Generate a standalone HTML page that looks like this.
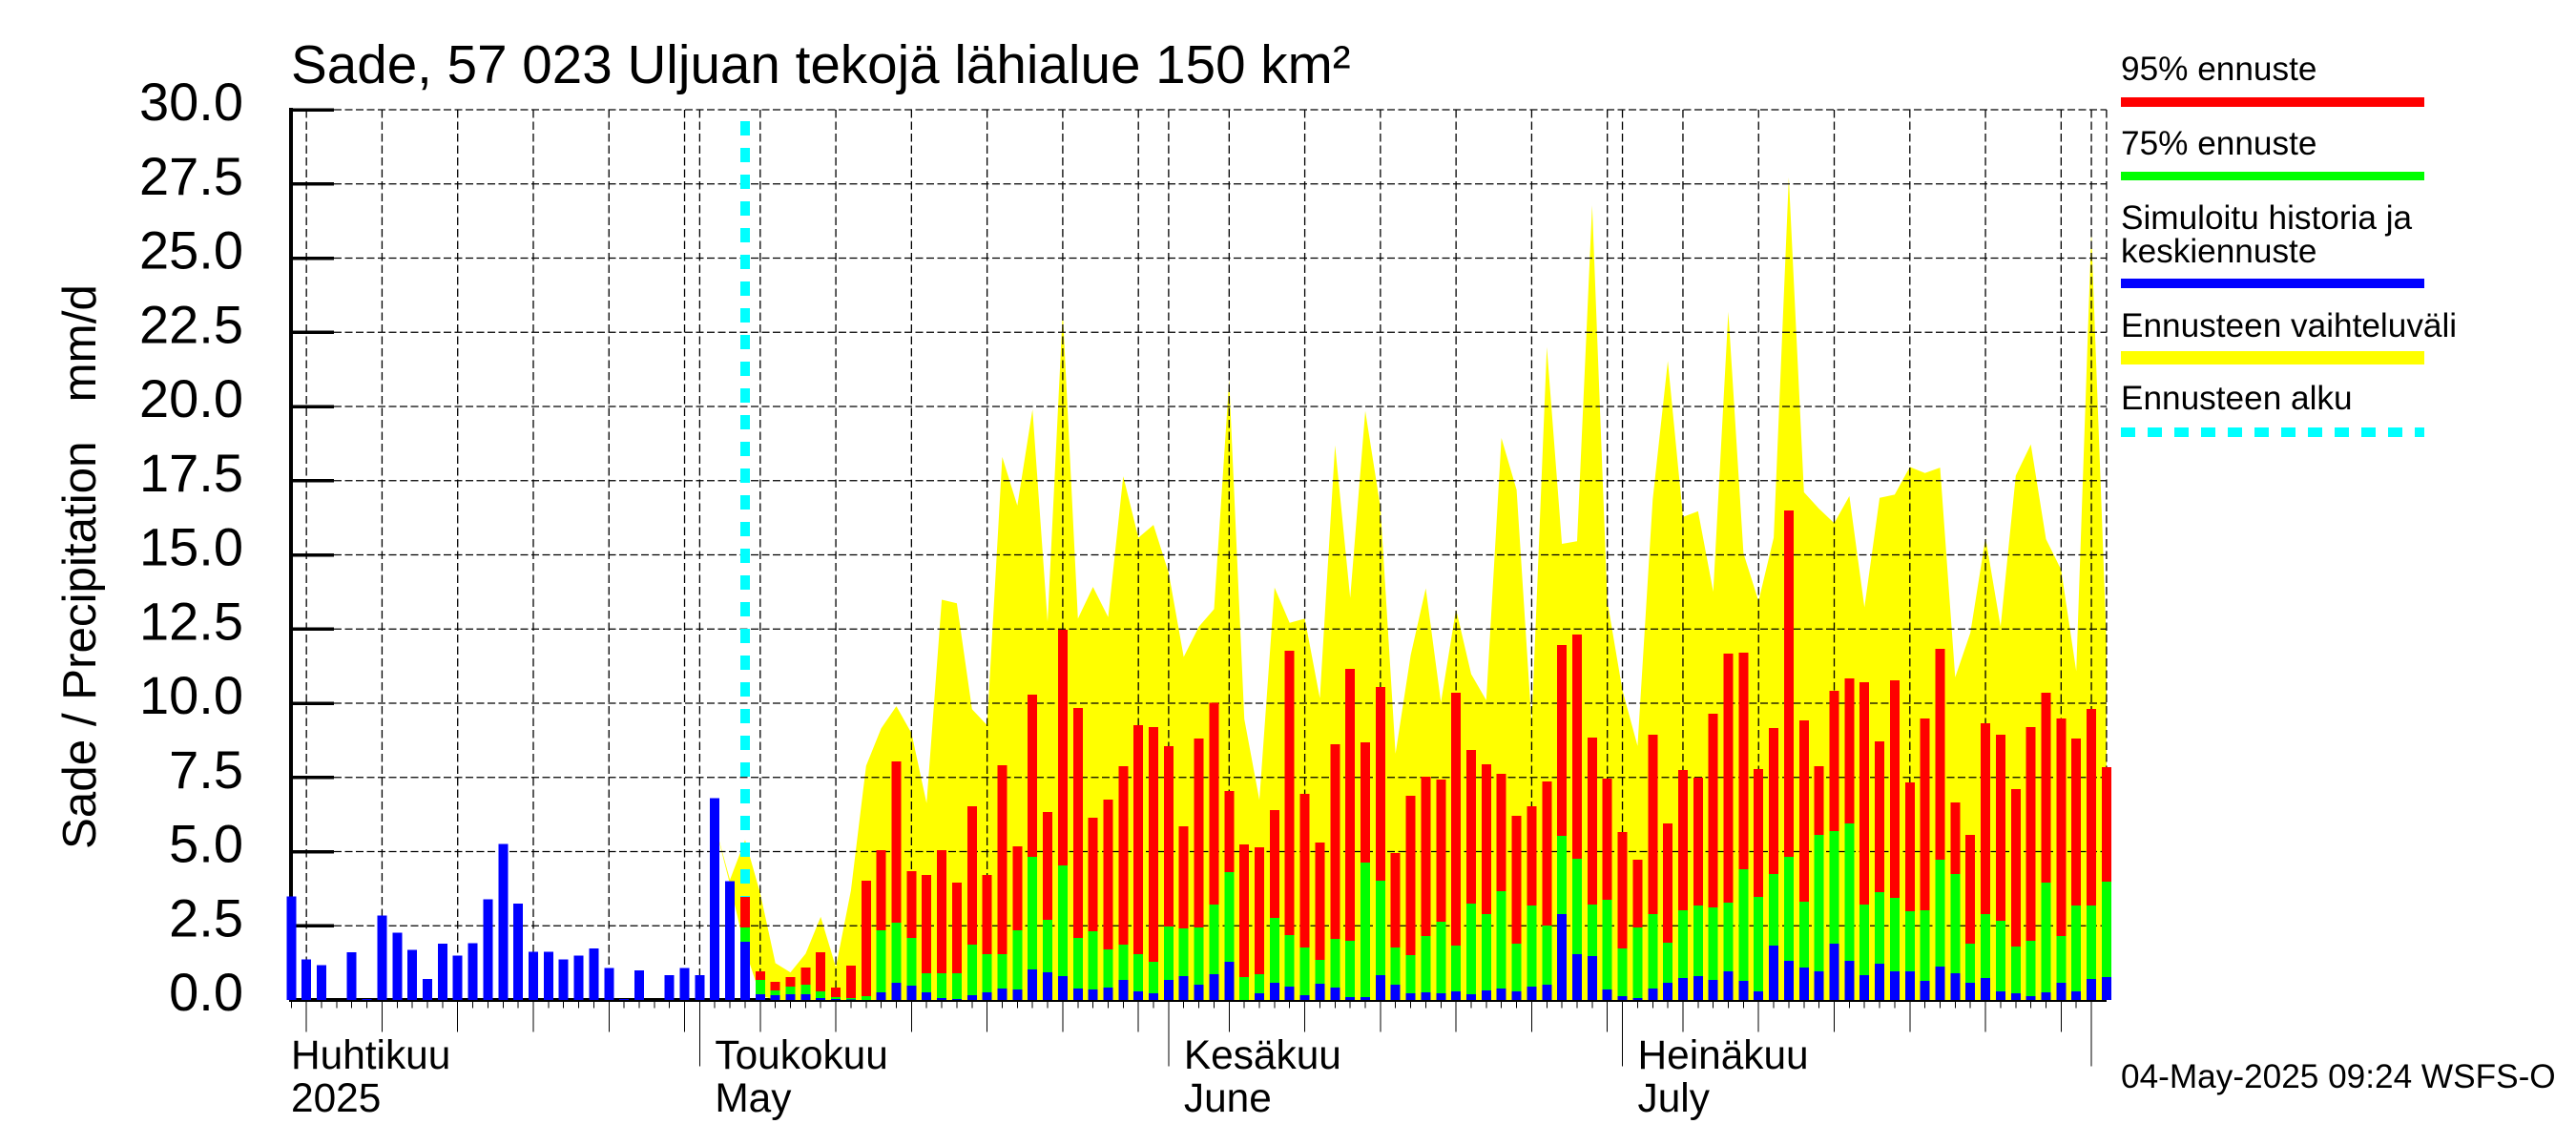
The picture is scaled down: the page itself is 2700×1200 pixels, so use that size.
<!DOCTYPE html>
<html lang="fi">
<head>
<meta charset="utf-8">
<title>Sade, 57 023 Uljuan tekojä lähialue 150 km²</title>
<style>
html,body{margin:0;padding:0;background:#fff;}
svg{display:block;}
text{font-family:"Liberation Sans",Arial,sans-serif;fill:#000;}
.crisp{shape-rendering:crispEdges;}
</style>
</head>
<body>
<svg id="chart" xmlns="http://www.w3.org/2000/svg" width="2700" height="1200" viewBox="0 0 2700 1200">
  <rect x="0" y="0" width="2700" height="1200" fill="#fff"/>
  <g id="baseline-layer"></g>
  <g id="range-layer"></g>
  <g id="grid-layer"></g>
  <line class="crisp" x1="781" y1="127" x2="781" y2="1048" stroke="#0ff" stroke-width="10" stroke-dasharray="15 13"/>
  <g id="axis-layer"></g>
  <g id="bar-layer"></g>
  <g id="label-layer"></g>

  <text x="305" y="87" font-size="56.6">Sade, 57 023 Uljuan tekojä lähialue 150 km²</text>
  <text transform="translate(100,890) rotate(-90)" font-size="49.3" style="white-space:pre">Sade / Precipitation   mm/d</text>

  <g>
    <text x="2223" y="84" font-size="35.2">95% ennuste</text>
    <rect class="crisp" x="2223" y="102" width="318" height="10" fill="#f00"/>
    <text x="2223" y="162" font-size="35.2">75% ennuste</text>
    <rect class="crisp" x="2223" y="180" width="318" height="9" fill="#0f0"/>
    <text x="2223" y="240" font-size="35.2">Simuloitu historia ja</text>
    <text x="2223" y="275" font-size="35.2">keskiennuste</text>
    <rect class="crisp" x="2223" y="292" width="318" height="10" fill="#00f"/>
    <text x="2223" y="353" font-size="35.2">Ennusteen vaihteluväli</text>
    <rect class="crisp" x="2223" y="368" width="318" height="14" fill="#ff0"/>
    <text x="2223" y="429" font-size="35.2">Ennusteen alku</text>
    <line class="crisp" x1="2223" y1="453" x2="2541" y2="453" stroke="#0ff" stroke-width="10" stroke-dasharray="15 13"/>
  </g>

  <text x="2223" y="1140" font-size="35.2">04-May-2025 09:24 WSFS-O</text>
</svg>

<script>
// ---- chart data ----
var firstDay = [2025, 3, 4];           // first plotted day: 4 April 2025
var dayCount = 121;
var yTickLabels = ["0.0","2.5","5.0","7.5","10.0","12.5","15.0","17.5","20.0","22.5","25.0","27.5","30.0"];
var yTickValues = [0,2.5,5,7.5,10,12.5,15,17.5,20,22.5,25,27.5,30];
var monthLabelsFi = ["Huhtikuu","Toukokuu","Kesäkuu","Heinäkuu"];
var monthLabelsEn = ["2025","May","June","July"];
var monthLabelDays = [0,28,59,89];

// observed history, day index 0..29
var historyValues = [3.49,1.37,1.18,0,1.6,0.04,2.85,2.27,1.69,0.7,1.89,1.5,1.92,3.4,5.26,3.24,1.63,1.63,1.37,1.5,1.73,1.08,0.03,0.99,0,0.83,1.08,0.83,6.8,4.0];

// forecast, day index 30..120
var forecastP95 = [3.47,0.96,0.61,0.77,1.09,1.61,0.42,1.16,4.02,5.05,8.04,4.34,4.21,5.05,3.95,6.53,4.21,7.91,5.18,10.29,6.33,12.48,9.84,6.14,6.75,7.88,9.26,9.2,8.55,5.85,8.81,10.01,7.04,5.24,5.14,6.4,11.77,6.95,5.31,8.62,11.16,8.68,10.55,4.95,6.88,7.52,7.43,10.35,8.42,7.94,7.62,6.21,6.53,7.36,11.96,12.31,8.84,7.46,5.66,4.73,8.94,5.95,7.75,7.49,9.65,11.67,11.7,7.78,9.16,16.5,9.42,7.88,10.42,10.84,10.71,8.71,10.77,7.33,9.49,11.83,6.66,5.56,9.32,8.94,7.11,9.2,10.35,9.49,8.81,9.81,7.85];
var forecastP75 = [2.45,0.68,0.32,0.45,0.51,0.29,0.1,0.06,0.13,2.35,2.6,2.09,0.9,0.9,0.9,1.86,1.54,1.54,2.35,4.82,2.7,4.53,2.09,2.32,1.7,1.86,1.54,1.29,2.48,2.41,2.44,3.22,4.31,0.77,0.87,2.77,2.19,1.77,1.35,2.06,1.99,4.63,4.02,1.77,1.51,2.15,2.64,1.83,3.25,2.89,3.67,1.9,3.18,2.51,5.53,4.76,3.22,3.38,1.74,2.44,2.89,1.93,3.02,3.18,3.12,3.28,4.41,3.47,4.24,4.82,3.31,5.56,5.69,5.95,3.22,3.63,3.44,2.99,3.02,4.73,4.24,1.9,2.89,2.67,1.8,1.99,3.95,2.15,3.18,3.18,3.99];
var forecastMean = [1.96,0.19,0.16,0.19,0.19,0.06,0.03,0.02,0,0.26,0.58,0.48,0.26,0.06,0.03,0.16,0.26,0.39,0.35,1.03,0.93,0.8,0.39,0.35,0.42,0.68,0.29,0.23,0.68,0.8,0.51,0.87,1.29,0,0.23,0.58,0.45,0.16,0.55,0.42,0.1,0.1,0.84,0.51,0.23,0.26,0.23,0.29,0.19,0.32,0.39,0.29,0.45,0.51,2.89,1.54,1.48,0.35,0.13,0.06,0.39,0.58,0.74,0.8,0.68,0.96,0.64,0.29,1.83,1.32,1.09,0.96,1.9,1.32,0.84,1.22,0.96,0.96,0.64,1.13,0.9,0.58,0.74,0.29,0.23,0.13,0.26,0.58,0.29,0.71,0.77];

// forecast range envelope, day index 28..120
var rangeHigh = [5.9,4.05,5.39,3.6,1.24,0.93,1.56,2.8,1.1,3.69,7.89,9.15,9.9,8.99,6.63,13.49,13.37,9.8,9.26,18.3,16.66,19.9,12.74,23.2,12.85,13.92,12.9,17.65,15.58,16.01,14.4,11.56,12.58,13.17,20.89,9.47,6.74,13.9,12.71,12.85,10.17,18.69,13.55,19.85,16.6,8.3,11.62,13.87,10.03,13.17,10.98,10.1,18.94,17.19,9.3,22.0,15.37,15.46,26.78,13.44,10.44,8.56,16.87,21.53,16.28,16.47,13.76,23.19,15.05,13.44,15.58,27.72,17.11,16.55,16.07,16.98,13.23,16.92,17.03,17.96,17.76,17.94,10.87,12.37,15.58,12.58,17.67,18.72,15.53,14.5,11.08,25.87,12.05];
var rangeLowStart = [5.9,3.9,1.7,0.15];  // remaining days sit on zero

var historyStart = 0;
var forecastStart = 30;
var rangeStart = 28;

// ---- axis functions ----
function xScale(i){ return 305.3 + 15.855 * i; }
function yScale(v){ return 1048 - 31.1 * v; }

var NS = "http://www.w3.org/2000/svg";
function make(tag, parent, attrs, txt){
  var el = document.createElementNS(NS, tag);
  for (var k in attrs){ el.setAttribute(k, attrs[k]); }
  if (txt !== undefined){ el.textContent = txt; }
  parent.appendChild(el);
  return el;
}
var baselineLayer = document.getElementById("baseline-layer");
var rangeLayer = document.getElementById("range-layer");
var gridLayer = document.getElementById("grid-layer");
var axisLayer = document.getElementById("axis-layer");
var barLayer = document.getElementById("bar-layer");
var labelLayer = document.getElementById("label-layer");

var xEnd = xScale(dayCount - 1);

// x axis line sits beneath the range area and bars
var xAxis = make("rect", baselineLayer, {x: 303, y: 1046, width: xEnd - 303, height: 4, fill: "#000", "class": "crisp"});



// forecast range polygon
(function(){
  var pts = [];
  for (var i = 0; i < rangeHigh.length; i++){
    pts.push(xScale(rangeStart + i).toFixed(1) + "," + yScale(rangeHigh[i]).toFixed(1));
  }
  for (var j = rangeHigh.length - 1; j >= 0; j--){
    var low = j < rangeLowStart.length ? rangeLowStart[j] : 0;
    pts.push(xScale(rangeStart + j).toFixed(1) + "," + yScale(low).toFixed(1));
  }
  var poly = make("polygon", rangeLayer, {points: pts.join(" "), fill: "#ff0"});
  
  
})();

// horizontal gridlines and y ticks
yTickValues.forEach(function(v, i){
  var y = yScale(v);
  if (v > 0){
    var g = make("line", gridLayer, {x1: 350, y1: y, x2: xEnd, y2: y, stroke: "#000", "stroke-width": 1.3, "stroke-dasharray": "8 3.5"});
    
    
  }
  var t = make("rect", axisLayer, {x: 305, y: y - 1.7, width: 45, height: 3.5, fill: "#000", "class": "crisp"});
  
  
  var lab = make("text", labelLayer, {x: 255, y: y + 11, "font-size": 56, "text-anchor": "end"}, yTickLabels[i]);
  
  
});

// day ticks and vertical gridlines, derived from calendar dates
for (var d = 0; d < dayCount; d++){
  var dt = new Date(firstDay[0], firstDay[1], firstDay[2] + d);
  var dom = dt.getDate();
  var x = xScale(d);
  var isMonth = dom === 1;
  var isFive = dom % 5 === 0;
  if (isMonth || isFive){
    var vg = make("line", gridLayer, {x1: x, y1: 115, x2: x, y2: 1048, stroke: "#000", "stroke-width": 1.3, "stroke-dasharray": "8.5 4"});
    
    
  }
  if (d < dayCount - 1){
    var tickEnd = isMonth ? 1117.7 : (isFive ? 1081.7 : 1056.7);
    var tk = make("line", axisLayer, {x1: x, y1: 1048, x2: x, y2: tickEnd, stroke: "#000", "stroke-width": 1, "class": "crisp"});
    
    
  }
}
var edge = make("line", gridLayer, {x1: xEnd, y1: 115, x2: xEnd, y2: 1048, stroke: "#000", "stroke-width": 1.3, "stroke-dasharray": "8.5 4"});



// y axis line
var yAxis = make("rect", axisLayer, {x: 303, y: 113, width: 4, height: 937, fill: "#000", "class": "crisp"});



// month labels
monthLabelDays.forEach(function(day, i){
  var lx = i === 0 ? 305 : xScale(day - 1) + 16;
  var a = make("text", labelLayer, {x: lx, y: 1120, "font-size": 42.4}, monthLabelsFi[i]);
  
  
  var b = make("text", labelLayer, {x: lx, y: 1165, "font-size": 42.4}, monthLabelsEn[i]);
  
  
});

// bars
function bar(i, value, color){
  if (value <= 0){ return null; }
  var top = yScale(value);
  return make("rect", barLayer, {x: xScale(i) - 5, y: top, width: 10, height: 1048 - top, fill: color, "class": "crisp"});
}
historyValues.forEach(function(v, i){
  var hb = bar(historyStart + i, v, "#00f");
  if (hb){
    
    
  }
});
forecastP95.forEach(function(v, i){
  var rb = bar(forecastStart + i, v, "#f00");
  if (rb){
    
    
  }
  var gb = bar(forecastStart + i, forecastP75[i], "#0f0");
  if (gb){
    
    
  }
  var bb = bar(forecastStart + i, forecastMean[i], "#00f");
  if (bb){
    
    
  }
});
</script>
</body>
</html>
